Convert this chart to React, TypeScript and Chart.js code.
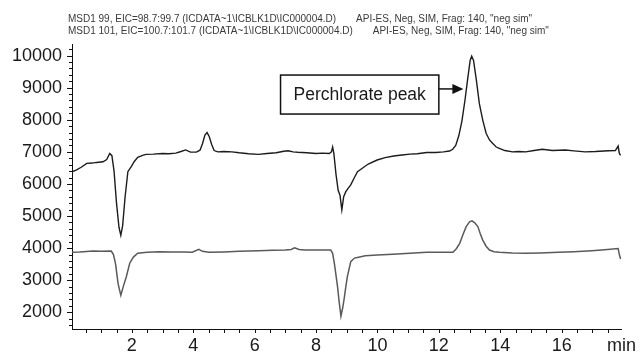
import { useEffect, useRef } from 'react';
import { Chart, registerables } from 'chart.js';

Chart.register(...registerables);

// ---- Header text ----
const HEADER_LEFT = [
  'MSD1 99, EIC=98.7:99.7 (ICDATA~1\\ICBLK1D\\IC000004.D)',
  'MSD1 101, EIC=100.7:101.7 (ICDATA~1\\ICBLK1D\\IC000004.D)',
];
const HEADER_RIGHT = [
  'API-ES, Neg, SIM, Frag: 140, "neg sim"',
  'API-ES, Neg, SIM, Frag: 140, "neg sim"',
];

// ---- Axes ----
const X_MIN = 0.05;
const X_MAX = 17.95;
const X_TICKS = [2, 4, 6, 8, 10, 12, 14, 16];
const X_UNIT = 'min';
const X_MINOR_STEP = 0.5;
const Y_MIN = 1480;
const Y_MAX = 10360;
const Y_TICKS = [2000, 3000, 4000, 5000, 6000, 7000, 8000, 9000, 10000];
const Y_MINOR_STEP = 200;

// ---- Trace MSD1 99 (upper) ----
const TIME_99 = [
  0.05, 0.2, 0.35, 0.53, 0.7, 0.85, 1.06, 1.18, 1.28, 1.35, 1.42, 1.5, 1.58, 1.64, 1.7, 1.78, 1.87, 1.98, 2.08, 2.19,
  2.35, 2.46, 2.7, 3.0, 3.2, 3.43, 3.6, 3.75, 3.91, 4.1, 4.22, 4.3, 4.38, 4.45, 4.52, 4.6, 4.68, 4.8, 5.0, 5.26,
  5.5, 5.8, 6.12, 6.4, 6.7, 6.95, 7.09, 7.25, 7.41, 7.7, 8.0, 8.2, 8.43, 8.5, 8.54, 8.58, 8.65, 8.72, 8.78, 8.84,
  8.9, 8.97, 9.05, 9.13, 9.25, 9.35, 9.45, 9.7, 9.99, 10.25, 10.53, 10.8, 11.06, 11.3, 11.6, 11.9, 12.15, 12.35, 12.45, 12.55,
  12.65, 12.75, 12.85, 12.95, 13.02, 13.07, 13.13, 13.22, 13.32, 13.43, 13.54, 13.65, 13.75, 13.87, 13.97, 14.15, 14.4, 14.6, 14.83, 15.1,
  15.37, 15.7, 16.12, 16.4, 16.77, 17.1, 17.52, 17.75, 17.84, 17.88, 17.92,
];
const SIGNAL_99 = [
  6380, 6440, 6520, 6640, 6650, 6670, 6690, 6760, 6950, 6880, 6400, 5400, 4650, 4400, 4700, 5600, 6380, 6540, 6700, 6830,
  6890, 6920, 6930, 6950, 6940, 6960, 7010, 7060, 6990, 6990, 7050, 7250, 7520, 7600, 7480, 7230, 7040, 7000, 7010, 7000,
  6970, 6940, 6920, 6950, 6970, 7020, 7035, 7000, 6985, 6970, 6950, 6960, 6950, 7000, 7150, 6950, 6300, 5800, 5650, 5190,
  5600, 5760, 5870, 5970, 6200, 6380, 6450, 6620, 6745, 6820, 6870, 6900, 6930, 6940, 6980, 6980, 7000, 7025, 7080, 7200,
  7500, 7950, 8600, 9350, 9850, 9980, 9850, 9250, 8500, 7990, 7580, 7370, 7265, 7150, 7110, 7040, 7000, 7010, 7000, 7040,
  7080, 7040, 7055, 7030, 7000, 7010, 7035, 7040, 7180, 6950, 6890,
];

// ---- Trace MSD1 101 (lower) ----
const TIME_101 = [
  0.05, 0.3, 0.74, 1.0, 1.33, 1.4, 1.47, 1.55, 1.64, 1.72, 1.82, 1.93, 2.05, 2.19, 2.5, 2.89, 3.3, 3.7, 3.97, 4.18,
  4.3, 4.51, 5.0, 5.5, 6.12, 6.6, 7.0, 7.19, 7.3, 7.45, 7.63, 8.0, 8.48, 8.54, 8.6, 8.7, 8.75, 8.81, 8.87, 8.92,
  8.97, 9.02, 9.13, 9.25, 9.35, 9.6, 9.99, 10.5, 11.06, 11.6, 12.0, 12.46, 12.57, 12.68, 12.79, 12.89, 13.0, 13.08, 13.17, 13.27,
  13.35, 13.43, 13.54, 13.65, 13.8, 13.97, 14.4, 14.83, 15.3, 15.9, 16.4, 16.98, 17.4, 17.84, 17.88, 17.92,
];
const SIGNAL_101 = [
  3870, 3880, 3910, 3900, 3910, 3800, 3500, 2900, 2530, 2800, 3110, 3530, 3720, 3840, 3870, 3890, 3880, 3880, 3870, 3960,
  3900, 3870, 3880, 3900, 3920, 3930, 3940, 3960, 4010, 3960, 3940, 3940, 3940, 3840, 3500, 2800, 2350, 1880, 2150, 2450,
  2800, 3110, 3580, 3690, 3710, 3760, 3785, 3810, 3840, 3870, 3870, 3870, 3980, 4150, 4430, 4670, 4820, 4850, 4790, 4670,
  4450, 4250, 4060, 3940, 3890, 3870, 3850, 3840, 3850, 3870, 3890, 3920, 3950, 3990, 3800, 3660,
];

// ---- Annotation (in data units) ----
const ANNOTATION_TEXT = 'Perchlorate peak';
const ANNOTATION_BOX_RIGHT_X = 12.0;
const ANNOTATION_BOX_CENTER_Y = 8785;
const ANNOTATION_ARROW_Y = 8960;
const ANNOTATION_ARROW_TIP_X = 12.8;

const FONT = '"Liberation Sans", Arial, Helvetica, sans-serif';

const toPoints = (xs: number[], ys: number[]) => xs.map((x, i) => ({ x, y: ys[i] }));

const decorPlugin = {
  id: 'decor',
  afterDraw(chart: any) {
    const ctx: CanvasRenderingContext2D = chart.ctx;
    const xs = chart.scales.x;
    const ys = chart.scales.y;
    const area = chart.chartArea;
    ctx.save();

    // header
    ctx.font = `10px ${FONT}`;
    ctx.fillStyle = '#3a3a3a';
    ctx.textBaseline = 'middle';
    ctx.textAlign = 'left';
    const headerY = [19, 31];
    HEADER_LEFT.forEach((t, i) => {
      const x0 = 68;
      ctx.fillText(t, x0, headerY[i]);
      const w = ctx.measureText(t).width;
      ctx.fillText(HEADER_RIGHT[i], x0 + w + 20, headerY[i]);
    });

    // minor/major ticks
    ctx.strokeStyle = '#111';
    ctx.lineWidth = 1;
    ctx.beginPath();
    for (let v = Math.ceil(Y_MIN / Y_MINOR_STEP) * Y_MINOR_STEP; v <= Y_MAX; v += Y_MINOR_STEP) {
      const py = Math.round(ys.getPixelForValue(v)) + 0.5;
      const len = v % 1000 === 0 ? 5 : 3;
      ctx.moveTo(area.left - len, py);
      ctx.lineTo(area.left, py);
    }
    for (let v = Math.ceil(X_MIN / X_MINOR_STEP) * X_MINOR_STEP; v <= X_MAX; v += X_MINOR_STEP) {
      const px = Math.round(xs.getPixelForValue(v)) + 0.5;
      ctx.moveTo(px, area.bottom);
      ctx.lineTo(px, area.bottom + 4);
    }
    ctx.stroke();

    // annotation box + arrow
    ctx.font = `17.5px ${FONT}`;
    const tw = ctx.measureText(ANNOTATION_TEXT).width;
    const boxW = tw + 26;
    const boxH = 39;
    const right = xs.getPixelForValue(ANNOTATION_BOX_RIGHT_X);
    const cy = ys.getPixelForValue(ANNOTATION_BOX_CENTER_Y);
    const left = right - boxW;
    ctx.fillStyle = '#fff';
    ctx.fillRect(left, cy - boxH / 2, boxW, boxH);
    ctx.strokeStyle = '#111';
    ctx.lineWidth = 1.5;
    ctx.strokeRect(left, cy - boxH / 2, boxW, boxH);
    ctx.fillStyle = '#1a1a1a';
    ctx.textAlign = 'center';
    ctx.textBaseline = 'middle';
    ctx.fillText(ANNOTATION_TEXT, left + boxW / 2, cy + 1);

    const ay = ys.getPixelForValue(ANNOTATION_ARROW_Y);
    const tip = xs.getPixelForValue(ANNOTATION_ARROW_TIP_X);
    ctx.beginPath();
    ctx.moveTo(right, ay);
    ctx.lineTo(tip - 10, ay);
    ctx.stroke();
    ctx.beginPath();
    ctx.fillStyle = '#111';
    ctx.moveTo(tip, ay);
    ctx.lineTo(tip - 11, ay - 5);
    ctx.lineTo(tip - 11, ay + 5);
    ctx.closePath();
    ctx.fill();

    ctx.restore();
  },
};

export default function App() {
  const ref = useRef<HTMLCanvasElement>(null);
  useEffect(() => {
    const chart = new Chart(ref.current as HTMLCanvasElement, {
      type: 'line',
      data: {
        datasets: [
          {
            label: 'MSD1 99',
            data: toPoints(TIME_99, SIGNAL_99),
            borderColor: '#1c1c1c',
            borderWidth: 1.4,
            pointRadius: 0,
            fill: false,
            tension: 0,
          },
          {
            label: 'MSD1 101',
            data: toPoints(TIME_101, SIGNAL_101),
            borderColor: '#5a5a5a',
            borderWidth: 1.5,
            pointRadius: 0,
            fill: false,
            tension: 0,
          },
        ],
      },
      options: {
        responsive: false,
        devicePixelRatio: 1,
        animation: false,
        layout: { padding: { left: 0, top: 44, right: 16, bottom: 0 } },
        plugins: { legend: { display: false }, tooltip: { enabled: false }, title: { display: false } },
        scales: {
          x: {
            type: 'linear',
            min: X_MIN,
            max: X_MAX,
            grid: { display: false, drawTicks: false },
            border: { display: true, color: '#111', width: 1 },
            ticks: {
              font: { size: 18, family: FONT },
              color: '#1a1a1a',
              padding: 6,
              maxRotation: 0,
              autoSkip: false,
              callback: (v: any) => (v === X_MAX ? X_UNIT : String(v)),
            },
            afterBuildTicks: (s: any) => {
              s.ticks = [...X_TICKS.map((v) => ({ value: v })), { value: X_MAX }];
            },
            afterFit: (s: any) => {
              s.height = 24;
            },
          },
          y: {
            type: 'linear',
            min: Y_MIN,
            max: Y_MAX,
            grid: { display: false, drawTicks: false },
            border: { display: true, color: '#111', width: 1 },
            ticks: {
              font: { size: 18, family: FONT },
              color: '#1a1a1a',
              padding: 10,
              autoSkip: false,
              callback: (v: any) => String(v),
            },
            afterBuildTicks: (s: any) => {
              s.ticks = Y_TICKS.map((v) => ({ value: v }));
            },
            afterFit: (s: any) => {
              s.width = 72;
            },
          },
        },
      },
      plugins: [decorPlugin],
    } as any);
    return () => chart.destroy();
  }, []);
  return (
    <div style={{ position: 'fixed', left: 0, top: 0, width: 642, height: 353, background: '#fff' }}>
      <canvas ref={ref} width={642} height={353} style={{ display: 'block', width: 642, height: 353 }} />
    </div>
  );
}
